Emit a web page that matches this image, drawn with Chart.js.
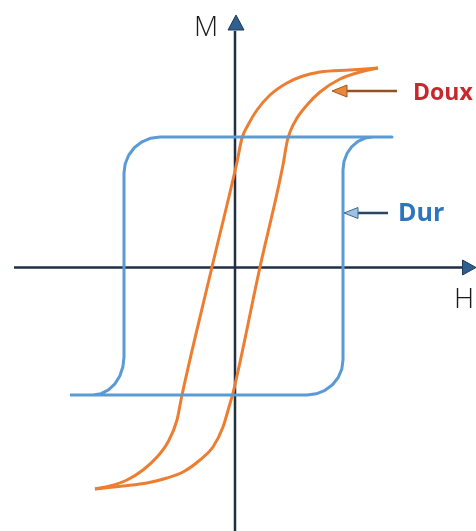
<!DOCTYPE html>
<html>
<head>
<meta charset="utf-8">
<script src="https://cdn.jsdelivr.net/npm/chart.js@4"></script>
<style>
  html, body { margin: 0; padding: 0; background: #ffffff; }
  #wrap { width: 476px; height: 531px; position: relative; }
</style>
</head>
<body>
<div id="wrap"><canvas id="c"></canvas></div>
<script>
// Hard magnet ("Dur") loop: H values and M values
const durH = [-16.5,
              -14.2, -13.4, -12.65, -12.01, -11.52, -11.21, -11.1,
              -11.1, -10.98, -10.62, -10.05, -9.3, -8.43, -7.5,
              15.7,
              13.8, 13.02, 12.3, 11.68, 11.2, 10.9, 10.8,
              10.8, 10.68, 10.32, 9.75, 9.0, 8.13, 7.2,
              -16.5];
const durM = [-12.8,
              -12.8, -12.67, -12.29, -11.69, -10.9, -9.98, -9.0,
              9.4, 10.33, 11.2, 11.95, 12.52, 12.88, 13.0,
              13.0,
              13.0, 12.89, 12.56, 12.03, 11.35, 10.55, 9.7,
              -9.3, -10.21, -11.05, -11.77, -12.33, -12.68, -12.8,
              -12.8];

// Soft magnet ("Doux") loop: ascending branch
const douxUpH = [-14.0, -11.2, -8.8, -6.8, -5.2, -3.5, -2.2, -1.2, -0.6, -0.2, 2.5, 4.8, 5.2, 5.5, 6.2, 7.2, 8.5, 10.5, 12.5, 14.3];
const douxUpM = [-22.2, -21.9, -21.6, -21.1, -20.5, -19.3, -18.0, -16.0, -14.0, -12.6, 0, 10.2, 12.5, 13.5, 14.9, 16.2, 17.5, 18.8, 19.5, 19.9];
// Soft magnet ("Doux") loop: descending branch
const douxDownH = [-14.0, -12.5, -10.8, -9.2, -7.8, -6.7, -5.8, -5.3, -2.3, 0.2, 0.7, 1.3, 2.2, 3.5, 5.2, 6.8, 8.5, 11.5, 14.3];
const douxDownM = [-22.2, -21.9, -21.3, -20.3, -19.0, -17.5, -15.3, -12.8, 0, 10.5, 12.9, 14.2, 15.7, 17.2, 18.4, 19.1, 19.5, 19.7, 19.9];

// Axis names
const axisNames = ['H', 'M'];
// Curve labels
const curveLabels = ['Doux', 'Dur'];

function pts(xs, ys) { return xs.map((x, i) => ({ x: x, y: ys[i] })); }

const BLUE = '#5b9bd5';
const ORANGE = '#ed7d31';

const axisPlugin = {
  id: 'axesArrows',
  beforeDatasetsDraw(chart) {
    const ctx = chart.ctx;
    const xs = chart.scales.x, ys = chart.scales.y;
    const X = v => xs.getPixelForValue(v), Y = v => ys.getPixelForValue(v);
    const x0 = X(0), y0 = Y(0) + 0.5;
    ctx.save();
    ctx.strokeStyle = '#1f2f44';
    ctx.lineWidth = 2.5;
    ctx.lineCap = 'butt';
    ctx.beginPath();
    ctx.moveTo(X(-22.1), y0);
    ctx.lineTo(X(22.9), y0);
    ctx.stroke();
    ctx.beginPath();
    ctx.moveTo(x0, Y(-26.4));
    ctx.lineTo(x0, Y(23.6));
    ctx.stroke();
    ctx.fillStyle = '#2f5f8e';
    ctx.strokeStyle = '#1f3a58';
    ctx.lineWidth = 1;
    ctx.beginPath();
    ctx.moveTo(X(24.1), y0);
    ctx.lineTo(X(22.75), y0 - 7.5);
    ctx.lineTo(X(22.75), y0 + 7.5);
    ctx.closePath();
    ctx.fill(); ctx.stroke();
    ctx.beginPath();
    ctx.moveTo(x0 + 1, Y(25.2));
    ctx.lineTo(x0 - 7, Y(23.7));
    ctx.lineTo(x0 + 9, Y(23.7));
    ctx.closePath();
    ctx.fill(); ctx.stroke();
    ctx.restore();
  },
  afterDatasetsDraw(chart) {
    const ctx = chart.ctx;
    const xs = chart.scales.x, ys = chart.scales.y;
    const X = v => xs.getPixelForValue(v), Y = v => ys.getPixelForValue(v);
    ctx.save();
    ctx.fillStyle = '#1a1a1a';
    ctx.textBaseline = 'alphabetic';
    ctx.textAlign = 'left';
    ctx.font = '300 28px "Open Sans", "Liberation Sans", sans-serif';
    ctx.fillText(axisNames[0], X(21.9), Y(-4.1));
    ctx.fillText(axisNames[1], X(-4.1), Y(23.1));

    // Doux arrow
    const dy = Y(17.6);
    ctx.strokeStyle = '#94521f';
    ctx.lineWidth = 2.5;
    ctx.beginPath();
    ctx.moveTo(X(16.2), dy);
    ctx.lineTo(X(10.9), dy);
    ctx.stroke();
    ctx.fillStyle = '#e8883a';
    ctx.strokeStyle = '#a0561c';
    ctx.lineWidth = 1;
    ctx.beginPath();
    ctx.moveTo(X(9.7), dy);
    ctx.lineTo(X(11.2), dy - 6);
    ctx.lineTo(X(11.2), dy + 6);
    ctx.closePath();
    ctx.fill(); ctx.stroke();

    // Dur arrow
    const uy = Y(5.4);
    ctx.strokeStyle = '#2a4662';
    ctx.lineWidth = 2.5;
    ctx.beginPath();
    ctx.moveTo(X(15.3), uy);
    ctx.lineTo(X(12.0), uy);
    ctx.stroke();
    ctx.fillStyle = '#9dc0e4';
    ctx.strokeStyle = '#3a6690';
    ctx.lineWidth = 1;
    ctx.beginPath();
    ctx.moveTo(X(10.9), uy);
    ctx.lineTo(X(12.3), uy - 5.5);
    ctx.lineTo(X(12.3), uy + 5.5);
    ctx.closePath();
    ctx.fill(); ctx.stroke();

    ctx.font = 'bold 23px "Open Sans", "Liberation Sans", sans-serif';
    ctx.fillStyle = '#c8282d';
    ctx.fillText(curveLabels[0], X(17.8), Y(16.7));
    ctx.font = 'bold 25px "Open Sans", "Liberation Sans", sans-serif';
    ctx.fillStyle = '#2e75c0';
    ctx.fillText(curveLabels[1], X(16.3), Y(4.6));
    ctx.restore();
  }
};

new Chart(document.getElementById('c'), {
  type: 'scatter',
  data: {
    datasets: [
      { label: 'Dur', data: pts(durH, durM), showLine: true, borderColor: BLUE, borderWidth: 3,
        pointRadius: 0, tension: 0, fill: false, borderJoinStyle: 'round' },
      { label: 'Doux montée', data: pts(douxUpH, douxUpM), showLine: true, borderColor: ORANGE, borderWidth: 3,
        pointRadius: 0, cubicInterpolationMode: 'monotone', fill: false },
      { label: 'Doux descente', data: pts(douxDownH, douxDownM), showLine: true, borderColor: ORANGE, borderWidth: 3,
        pointRadius: 0, cubicInterpolationMode: 'monotone', fill: false }
    ]
  },
  options: {
    responsive: true,
    maintainAspectRatio: false,
    animation: false,
    layout: { padding: 0 },
    plugins: { legend: { display: false }, tooltip: { enabled: false } },
    scales: {
      x: { type: 'linear', min: -23.5, max: 24.1, display: false },
      y: { type: 'linear', min: -26.4, max: 26.7, display: false }
    }
  },
  plugins: [axisPlugin]
});
</script>
</body>
</html>
